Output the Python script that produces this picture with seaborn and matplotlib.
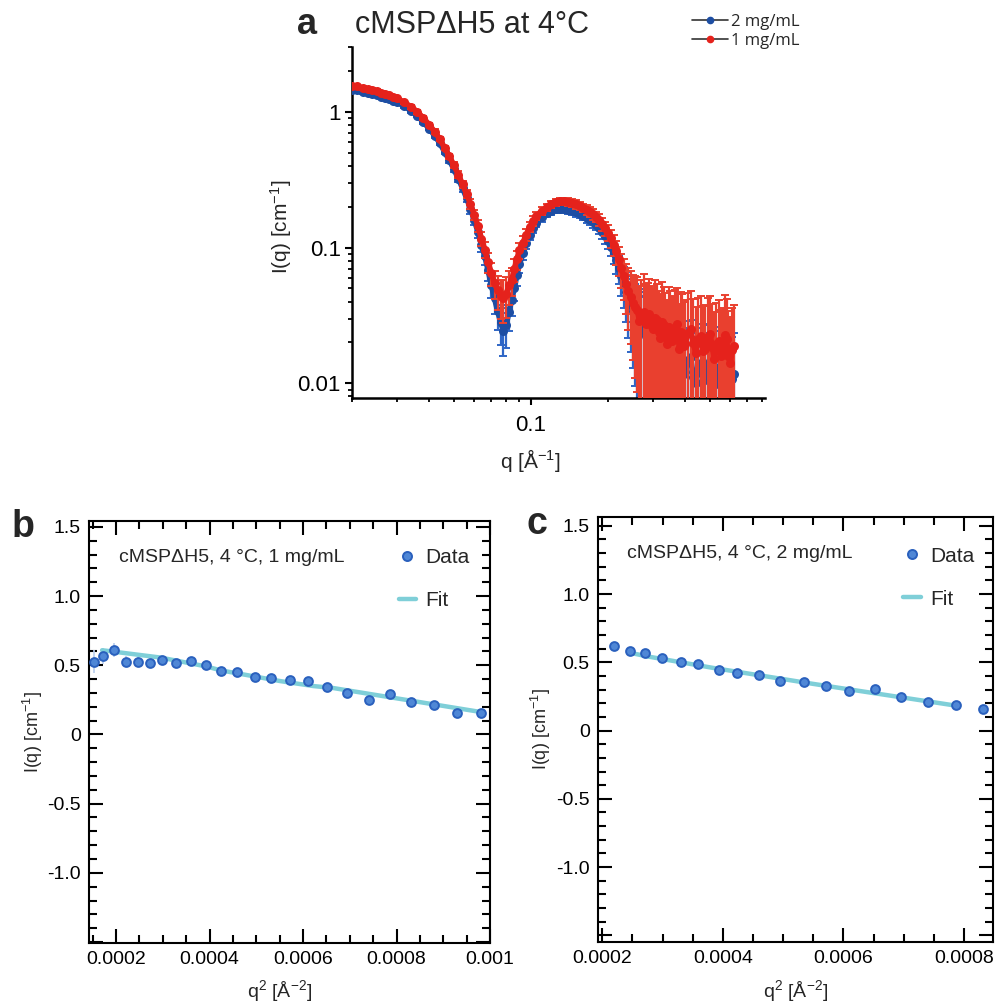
import numpy as np
import matplotlib
matplotlib.use('Agg')
import matplotlib.pyplot as plt
import seaborn as sns
from matplotlib.ticker import MultipleLocator, FuncFormatter, NullFormatter
from matplotlib.lines import Line2D

sns.set_style('ticks')
plt.rcParams['font.family'] = ['Liberation Sans', 'DejaVu Sans']
plt.rcParams['mathtext.fontset'] = 'custom'
plt.rcParams['mathtext.rm'] = 'Liberation Sans'
plt.rcParams['mathtext.it'] = 'Liberation Sans:italic'
plt.rcParams['mathtext.default'] = 'regular'
plt.rcParams['axes.edgecolor'] = 'black'
plt.rcParams['xtick.color'] = 'black'
plt.rcParams['ytick.color'] = 'black'

# ---- panel a : SAXS curves, I(q) vs q ----
q = [0.020, 0.021, 0.022, 0.023, 0.024, 0.025, 0.026, 0.027, 0.028, 0.029, 0.030,
     0.032, 0.034, 0.036, 0.038, 0.040, 0.042, 0.044, 0.046, 0.048, 0.050,
     0.052, 0.054, 0.056, 0.058, 0.060, 0.062, 0.064, 0.066, 0.068, 0.070,
     0.072, 0.074, 0.076, 0.078, 0.080, 0.082, 0.084, 0.086, 0.088, 0.090,
     0.093, 0.096, 0.099, 0.102, 0.105,
     0.110, 0.115, 0.120, 0.125, 0.130, 0.135, 0.140, 0.145, 0.150, 0.155,
     0.160, 0.165, 0.170, 0.175, 0.180, 0.185, 0.190, 0.195, 0.200, 0.205,
     0.210, 0.215, 0.220, 0.225, 0.230, 0.235, 0.240, 0.245, 0.250,
     0.255, 0.260, 0.265, 0.270, 0.275, 0.280, 0.285, 0.290, 0.295, 0.300,
     0.305, 0.310, 0.315, 0.320, 0.325, 0.330, 0.335, 0.340, 0.345, 0.350,
     0.355, 0.360, 0.365, 0.370, 0.375, 0.380, 0.385, 0.390, 0.395, 0.400,
     0.41, 0.42, 0.43, 0.44, 0.45, 0.46, 0.47, 0.48, 0.49, 0.50,
     0.51, 0.52, 0.53, 0.54, 0.55, 0.56, 0.57, 0.58, 0.59, 0.60, 0.61, 0.62]
I_1mg = [1.548, 1.535, 1.497, 1.472, 1.447, 1.423, 1.376, 1.353, 1.319, 1.287, 1.254,
         1.173, 1.088, 1.000, 0.897, 0.804, 0.715, 0.630, 0.541, 0.469, 0.4035,
         0.344, 0.2932, 0.2478, 0.2095, 0.1741, 0.1447, 0.1163, 0.0967, 0.0777, 0.0646,
         0.0546, 0.0485, 0.0439, 0.0428, 0.0454, 0.0528, 0.0574, 0.0691, 0.0817, 0.0951,
         0.1088, 0.1244, 0.1423, 0.1574, 0.1713,
         0.1862, 0.1975, 0.2077, 0.2148, 0.2185, 0.2203, 0.2167, 0.2130, 0.2077, 0.2025,
         0.1959, 0.1894, 0.1831, 0.1756, 0.1684, 0.1601, 0.1497, 0.1388, 0.1287, 0.1173,
         0.1052, 0.0935, 0.0817, 0.0703, 0.0614, 0.0537, 0.0477, 0.0432, 0.0390,
         0.0365, 0.0347, 0.0290, 0.0314, 0.0335, 0.0274, 0.0298, 0.0324, 0.0268, 0.0252,
         0.0305, 0.0293, 0.0238, 0.0217, 0.0285, 0.0270, 0.0226, 0.0196, 0.0262, 0.0252,
         0.0205, 0.0213, 0.0248, 0.0274, 0.0221, 0.0180, 0.0240, 0.0232, 0.0188, 0.0196,
         0.0236, 0.0252, 0.0198, 0.0166, 0.0212, 0.0224, 0.0172, 0.0180, 0.0218, 0.0232,
         0.0184, 0.0152, 0.0195, 0.0206, 0.0160, 0.0166, 0.0228, 0.0213, 0.0158, 0.0140,
         0.0176, 0.0189]
I_2mg = [1.447, 1.435, 1.400, 1.376, 1.353, 1.331, 1.287, 1.265, 1.234, 1.203, 1.173,
         1.097, 1.017, 0.935, 0.838, 0.751, 0.668, 0.589, 0.506, 0.4388, 0.3772,
         0.3216, 0.2742, 0.2317, 0.1926, 0.1601, 0.1308, 0.1052, 0.0860, 0.0679, 0.0528,
         0.0424, 0.0341, 0.0284, 0.0244, 0.0270, 0.0335, 0.0410, 0.0502, 0.0624, 0.0751,
         0.0904, 0.1088, 0.1244, 0.1400, 0.1522,
         0.1670, 0.1786, 0.1862, 0.1910, 0.1926, 0.1926, 0.1894, 0.1862, 0.1815, 0.1771,
         0.1713, 0.1656, 0.1601, 0.1535, 0.1472, 0.1400, 0.1308, 0.1213, 0.1125, 0.1017,
         0.0904, 0.0804, 0.0703, 0.0614, 0.0537, 0.0469, 0.0417, 0.0377, 0.0341,
         0.0318, 0.0293, 0.0240, 0.0256, 0.0262, 0.0224, 0.0210, 0.0240, 0.0200, 0.0189,
         0.0222, 0.0217, 0.0172, 0.0160, 0.0195, 0.0183, 0.0148, 0.0127, 0.0170, 0.0163,
         0.0131, 0.0135, 0.0160, 0.0177, 0.0126, 0.0111, 0.0142, 0.0150, 0.0118, 0.0122,
         0.0148, 0.0155, 0.0112, 0.0100, 0.0128, 0.0140, 0.0104, 0.0111, 0.0138, 0.0145,
         0.0106, 0.0097, 0.0121, 0.0131, 0.0099, 0.0103, 0.0128, 0.0135, 0.0094, 0.0090,
         0.0107, 0.0118]
# relative error of each point (same for both concentrations)
rel_err = [0.03, 0.03, 0.03, 0.03, 0.03, 0.03, 0.03, 0.03, 0.03, 0.03, 0.03,
           0.03, 0.03, 0.03, 0.03, 0.03, 0.04, 0.04, 0.04, 0.05, 0.05,
           0.06, 0.06, 0.07, 0.08, 0.09, 0.10, 0.12, 0.14, 0.17, 0.20,
           0.24, 0.28, 0.32, 0.35, 0.33, 0.28, 0.24, 0.20, 0.16, 0.13,
           0.11, 0.10, 0.09, 0.08, 0.07,
           0.07, 0.06, 0.06, 0.06, 0.06, 0.06, 0.06, 0.06, 0.07, 0.07,
           0.07, 0.08, 0.08, 0.09, 0.09, 0.10, 0.11, 0.12, 0.13, 0.15,
           0.17, 0.20, 0.24, 0.28, 0.33, 0.40, 0.48, 0.55, 0.62,
           0.70, 0.75, 0.80, 0.85, 0.90, 0.95, 0.85, 0.80, 0.95, 1.00,
           0.90, 0.85, 1.00, 1.10, 0.95, 0.90, 1.05, 1.10, 0.95, 0.90,
           1.10, 1.05, 0.95, 0.85, 1.05, 1.15, 0.95, 0.95, 1.10, 1.10,
           0.95, 0.90, 1.10, 1.20, 1.00, 0.95, 1.15, 1.10, 0.95, 0.90,
           1.10, 1.20, 1.00, 1.00, 1.15, 1.15, 0.95, 0.95, 1.15, 1.20,
           1.05, 1.00]

# ---- panel b : Guinier-type plot, 1 mg/mL ----
q2_b = [0.000152, 0.000172, 0.000195, 0.000221, 0.000247, 0.000273, 0.000299, 0.000328,
        0.000361, 0.000393, 0.000425, 0.000458, 0.000497, 0.000532, 0.000571, 0.000610,
        0.000652, 0.000694, 0.000741, 0.000786, 0.000831, 0.000880, 0.000929, 0.000981]
I_b = [0.527, 0.567, 0.609, 0.527, 0.527, 0.514, 0.541, 0.514, 0.529, 0.500, 0.459, 0.449,
       0.418, 0.408, 0.396, 0.384, 0.341, 0.299, 0.251, 0.290, 0.237, 0.212, 0.157, 0.157]
err_b = [0.08, 0.06, 0.05, 0.04, 0.03, 0.03, 0.02, 0.02, 0.02, 0.02, 0.02, 0.02,
         0.02, 0.02, 0.02, 0.02, 0.02, 0.02, 0.02, 0.02, 0.02, 0.02, 0.02, 0.02]
fit_q2_b = [0.000170, 0.000295, 0.000394, 0.000423, 0.000551, 0.000622, 0.000664, 0.000981]
fit_I_b = [0.609, 0.556, 0.491, 0.464, 0.386, 0.350, 0.336, 0.162]

# ---- panel c : Guinier-type plot, 2 mg/mL ----
q2_c = [0.000220, 0.000246, 0.000271, 0.000299, 0.000330, 0.000358, 0.000393, 0.000424,
        0.000460, 0.000494, 0.000534, 0.000571, 0.000610, 0.000652, 0.000695, 0.000741,
        0.000786, 0.000831]
I_c = [0.622, 0.583, 0.571, 0.529, 0.500, 0.490, 0.446, 0.419, 0.410, 0.366, 0.353,
       0.327, 0.287, 0.307, 0.249, 0.212, 0.185, 0.156]
err_c = [0.03, 0.02, 0.02, 0.02, 0.02, 0.02, 0.02, 0.02, 0.02, 0.02, 0.02,
         0.02, 0.02, 0.02, 0.02, 0.02, 0.02, 0.02]
fit_q2_c = [0.000243, 0.000274, 0.000384, 0.000550, 0.000786]
fit_I_c = [0.573, 0.544, 0.459, 0.342, 0.183]

RED, RED_ERR = '#e5221c', '#e9402f'
BLUE, BLUE_ERR = '#1d4ea3', '#2f66c6'
PT, PT_EDGE, PT_ERR = '#4f87d6', '#2a60bd', '#b7cdee'
FIT = '#7fcfd8'

fig = plt.figure(figsize=(9.99, 10.05), dpi=100)

# ---------------- panel a ----------------
axa = fig.add_axes([0.3524, 0.604, 0.4134, 0.3493])
axa.set_xscale('log')
axa.set_yscale('log')
# blue (2 mg/mL) first, red (1 mg/mL) stacked fully on top of it
for k, (I, col, ecol) in enumerate([(I_2mg, BLUE, BLUE_ERR), (I_1mg, RED, RED_ERR)]):
    yerr = np.array(I) * np.array(rel_err)
    axa.errorbar(q, I, yerr=yerr, fmt='none', ecolor=ecol, elinewidth=1.6,
                 capsize=3, capthick=1.4, zorder=2 + 2 * k)
    sns.lineplot(x=q, y=I, ax=axa, color=col, lw=4, marker='o', markersize=6.5,
                 markeredgewidth=0, estimator=None, sort=False, zorder=3 + 2 * k)
axa.set_xlim(0.02, 0.82)
axa.set_ylim(0.0078, 3.0)
axa.xaxis.set_minor_formatter(NullFormatter())
axa.yaxis.set_minor_formatter(NullFormatter())
axa.yaxis.set_major_formatter(FuncFormatter(lambda v, p: '%g' % v))
axa.xaxis.set_major_formatter(FuncFormatter(lambda v, p: '%g' % v))
for s in ['top', 'right']:
    axa.spines[s].set_visible(False)
for s in ['left', 'bottom']:
    axa.spines[s].set_linewidth(1.8)
axa.tick_params(which='major', direction='out', length=5, width=1.5, labelsize=16)
axa.tick_params(which='minor', direction='out', length=3, width=1.3)
axa.tick_params(axis='x', which='major', pad=7)
axa.tick_params(axis='y', which='major', pad=3)
axa.set_xlabel('q [Å$^{-1}$]', fontsize=15)
axa.set_ylabel('I(q) [cm$^{-1}$]', fontsize=15)
axa.xaxis.set_label_coords(0.431, -0.14)
axa.yaxis.set_label_coords(-0.14, 0.487)

handles = [Line2D([], [], color='#333333', lw=1.2, marker='o', markersize=4.5,
                  markerfacecolor=BLUE, markeredgecolor=BLUE),
           Line2D([], [], color='#333333', lw=1.2, marker='o', markersize=4.5,
                  markerfacecolor=RED, markeredgecolor=RED)]
fig.legend(handles, ['2 mg/mL', '1 mg/mL'], loc='upper left',
           bbox_to_anchor=(692 / 999, 1 - 14 / 1005), frameon=False,
           prop={'family': 'Open Sans', 'size': 12}, handlelength=2.15,
           handletextpad=0.2, labelspacing=0.2, borderpad=0, borderaxespad=0)
fig.text(472 / 999, 1 - 25 / 1005, 'cMSPΔH5 at 4°C', ha='center', va='center', fontsize=22)
fig.text(297 / 999, 1 - 24 / 1005, 'a', ha='left', va='center', fontsize=26, fontweight='bold')


# ---------------- panels b and c ----------------
def guinier_panel(ax, q2, I, err, fq2, fI, xlim, ylim, note, leg_y):
    ax.errorbar(q2, I, yerr=err, fmt='none', ecolor=PT_ERR, elinewidth=1.2, zorder=2)
    sns.lineplot(x=fq2, y=fI, ax=ax, color=FIT, lw=3.2, estimator=None, sort=False, zorder=3)
    sns.scatterplot(x=q2, y=I, ax=ax, color=PT, edgecolor=PT_EDGE, s=40, linewidth=1.4,
                    zorder=4)
    ax.set_xlim(*xlim)
    ax.set_ylim(*ylim)
    ax.xaxis.set_major_locator(MultipleLocator(0.0002))
    ax.xaxis.set_minor_locator(MultipleLocator(0.00005))
    ax.yaxis.set_major_locator(MultipleLocator(0.5))
    ax.yaxis.set_minor_locator(MultipleLocator(0.1))
    ax.xaxis.set_major_formatter(FuncFormatter(lambda v, p: '%g' % round(v, 6)))
    ax.yaxis.set_major_formatter(FuncFormatter(
        lambda v, p: '' if v < -1.45 else ('0' if abs(v) < 1e-9 else '%.1f' % v)))
    for s in ax.spines.values():
        s.set_linewidth(1.5)
        s.set_visible(True)
    ax.tick_params(which='both', direction='in', top=True, right=True, width=1.5)
    ax.tick_params(which='major', length=10, labelsize=14, pad=6)
    ax.tick_params(which='minor', length=5.5)
    ax.set_xlabel('q$^{2}$ [Å$^{-2}$]', fontsize=14)
    ax.set_ylabel('I(q) [cm$^{-1}$]', fontsize=13)
    ax.text(0.074, 0.913, note, transform=ax.transAxes, va='center', fontsize=14)
    h = [Line2D([], [], ls='none', marker='o', markersize=6.5, markerfacecolor=PT,
                markeredgecolor=PT_EDGE, markeredgewidth=1.4),
         Line2D([], [], color=FIT, lw=3.2)]
    ax.legend(h, ['Data', 'Fit'], loc='upper left', bbox_to_anchor=(0.772, leg_y),
              frameon=False, fontsize=15, handlelength=0.85, handletextpad=0.45,
              labelspacing=1.15, borderpad=0, borderaxespad=0)


axb = fig.add_axes([0.0891, 0.0617, 0.4014, 0.4199])
guinier_panel(axb, q2_b, I_b, err_b, fit_q2_b, fit_I_b, (0.000142, 0.001),
              (-1.507, 1.543), 'cMSPΔH5, 4 °C, 1 mg/mL', 0.935)
axb.xaxis.set_label_coords(0.476, -0.083)
axb.yaxis.set_label_coords(-0.11, 0.5)

axc = fig.add_axes([0.5986, 0.0627, 0.3954, 0.4229])
guinier_panel(axc, q2_c, I_c, err_c, fit_q2_c, fit_I_c, (0.000193, 0.000848),
              (-1.549, 1.565), 'cMSPΔH5, 4 °C, 2 mg/mL', 0.93)
axc.xaxis.set_label_coords(0.5, -0.085)
axc.yaxis.set_label_coords(-0.114, 0.5)

fig.text(12 / 999, 1 - 527 / 1005, 'b', ha='left', va='center', fontsize=27, fontweight='bold')
fig.text(527 / 999, 1 - 524 / 1005, 'c', ha='left', va='center', fontsize=27, fontweight='bold')

plt.savefig('out.png', dpi=100)
